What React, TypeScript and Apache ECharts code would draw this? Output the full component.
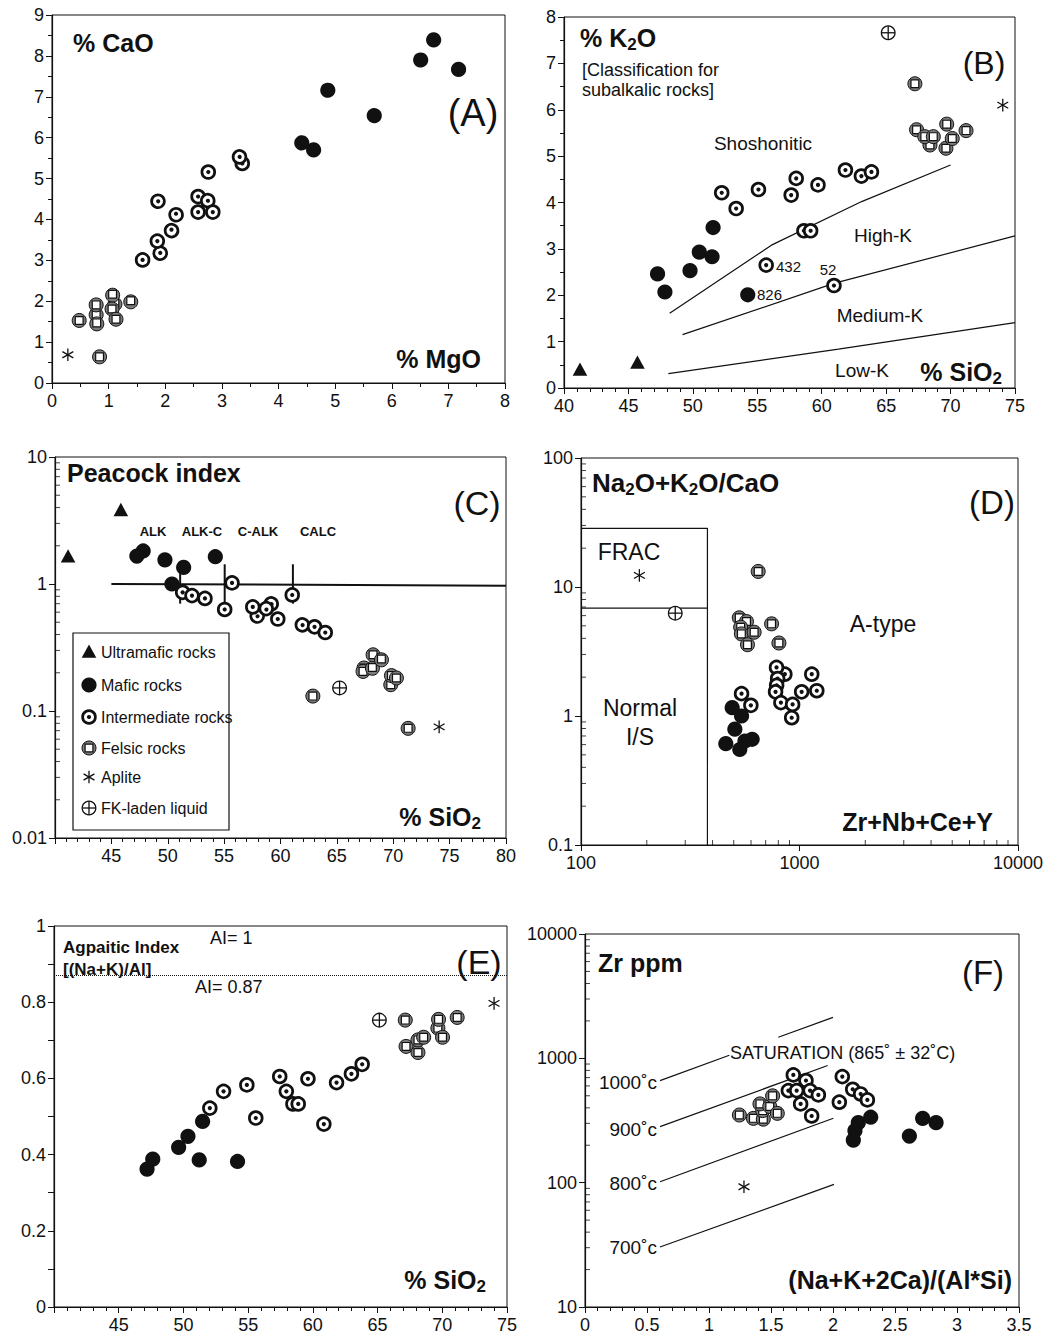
import React, { useEffect, useRef } from "react";
import * as echarts from "echarts";

const FONT = "'Liberation Sans', Arial, Helvetica, sans-serif";
const INK = "#111";

// ---------- Panel A: % CaO vs % MgO ----------
const aMafic = [[6.51, 7.92], [6.74, 8.39], [7.18, 7.67], [4.87, 7.18], [5.69, 6.56], [4.41, 5.9], [4.62, 5.7]];
const aInter = [[3.36, 5.37], [3.31, 5.55], [2.76, 5.16], [2.58, 4.56], [2.75, 4.48], [2.58, 4.18], [2.84, 4.18], [1.87, 4.47], [2.19, 4.14], [2.11, 3.75], [1.91, 3.2], [1.86, 3.47], [1.6, 3.01]];
const aFelsic = [[0.48, 1.53], [1.11, 1.95], [0.78, 1.67], [0.78, 1.91], [0.79, 1.47], [1.07, 2.17], [1.06, 1.81], [1.13, 1.56], [1.39, 2.01], [0.84, 0.64]];
const aAplite = [[0.28, 0.69]];

// ---------- Panel B: % K2O vs % SiO2 ----------
const bUltra = [[41.24, 0.39], [45.7, 0.54]];
const bMafic = [[47.26, 2.46], [47.83, 2.07], [49.78, 2.53], [50.5, 2.93], [51.49, 2.83], [51.57, 3.46], [54.26, 2.01]];
const bInter = [[52.24, 4.21], [53.36, 3.87], [55.09, 4.28], [55.69, 2.65], [57.63, 4.16], [58.02, 4.52], [58.62, 3.39], [59.14, 3.39], [59.71, 4.38], [60.95, 2.21], [61.84, 4.7], [63.08, 4.57], [63.86, 4.66]];
const bFelsic = [[67.23, 6.56], [68.4, 5.24], [67.36, 5.57], [68.0, 5.42], [68.66, 5.42], [69.64, 5.17], [69.7, 5.69], [70.13, 5.38], [71.2, 5.55]];
const bFK = [[65.16, 7.66]];
const bAplite = [[74.05, 6.1]];
const bShoshoLine = [[48.2, 1.61], [56.1, 3.08], [63.1, 4.02], [70.0, 4.81]];
const bHighKLine = [[49.2, 1.15], [61.0, 2.26], [75, 3.28]];
const bMedKLine = [[48.1, 0.31], [61.3, 0.84], [75, 1.41]];

// ---------- Panel C: Peacock index vs % SiO2 ----------
const cUltra = [[41.16, 1.64], [45.84, 3.8]];
const cMafic = [[47.26, 1.66], [47.82, 1.82], [49.75, 1.55], [51.41, 1.35], [50.37, 1.0], [54.22, 1.64]];
const cInter = [[51.32, 0.86], [52.15, 0.81], [53.3, 0.77], [55.7, 1.02], [55.05, 0.63], [57.93, 0.57], [57.54, 0.66], [59.17, 0.71], [58.73, 0.64], [59.76, 0.53], [61.04, 0.82], [61.93, 0.485], [63.02, 0.46], [63.97, 0.415]];
const cFelsic = [[62.87, 0.131], [67.41, 0.218], [67.32, 0.205], [68.15, 0.22], [68.21, 0.277], [68.95, 0.257], [69.78, 0.161], [69.84, 0.19], [70.28, 0.182], [71.32, 0.073]];
const cFK = [[65.24, 0.152]];
const cAplite = [[74.07, 0.075]];
const cHLine = [[45.0, 1.0], [80, 0.97]];
const cVLine1 = [[51.1, 1.41], [51.1, 0.7]];
const cVLine2 = [[55.05, 1.43], [55.05, 0.66]];
const cVLine3 = [[61.1, 1.43], [61.1, 0.7]];

// ---------- Panel D: Na2O+K2O/CaO vs Zr+Nb+Ce+Y ----------
const dAplite = [[185, 12.3]];
const dFK = [[270, 6.27]];
const dFelsic = [[647, 13.2], [530, 5.77], [572, 5.4], [538, 4.88], [542, 4.33], [620, 4.46], [578, 3.57], [745, 5.18], [805, 3.68]];
const dInter = [[543, 1.49], [599, 1.21], [857, 2.11], [785, 2.38], [794, 1.95], [786, 1.73], [777, 1.54], [822, 1.27], [930, 1.23], [921, 0.97], [1023, 1.54], [1138, 2.11], [1200, 1.57]];
const dMafic = [[492, 1.16], [543, 1.0], [506, 0.79], [460, 0.61], [533, 0.55], [563, 0.64], [607, 0.66]];
const dFracBox = [[100, 28.5], [379, 28.5], [379, 0.1]];
const dFracLine = [[100, 6.86], [379, 6.86]];

// ---------- Panel E: Agpaitic index vs % SiO2 ----------
const eMafic = [[47.19, 0.362], [47.63, 0.388], [49.63, 0.419], [50.35, 0.448], [51.22, 0.386], [51.48, 0.487], [54.18, 0.382]];
const eInter = [[52.04, 0.522], [53.1, 0.566], [54.9, 0.583], [55.59, 0.496], [57.44, 0.605], [57.95, 0.566], [58.46, 0.533], [58.87, 0.533], [59.62, 0.599], [60.85, 0.48], [61.83, 0.589], [62.98, 0.612], [63.81, 0.637]];
const eFelsic = [[67.14, 0.753], [67.2, 0.684], [68.12, 0.668], [68.12, 0.701], [68.56, 0.708], [69.66, 0.732], [69.71, 0.755], [70.02, 0.708], [71.15, 0.76]];
const eFK = [[65.14, 0.753]];
const eAplite = [[74.0, 0.797]];
const eAILine = [[40, 0.87], [75, 0.87]];

// ---------- Panel F: Zr ppm vs (Na+K+2Ca)/(Al*Si) ----------
const fAplite = [[1.282, 92.7]];
const fFelsic = [[1.245, 350], [1.358, 329], [1.438, 324], [1.433, 380], [1.411, 430], [1.49, 410], [1.513, 499], [1.551, 361]];
const fInter = [[1.64, 550], [1.707, 550], [1.68, 736], [1.782, 663], [1.815, 550], [1.882, 508], [1.739, 430], [1.828, 344], [2.075, 713], [2.051, 444], [2.159, 564], [2.223, 517], [2.277, 463]];
const fMafic = [[2.204, 304], [2.177, 262], [2.164, 220], [2.304, 336], [2.616, 237], [2.723, 329], [2.831, 304]];
const f1000a = [[0.605, 662], [1.164, 1059]];
const f1000b = [[1.559, 1476], [2.0, 2134]];
const f900 = [[0.605, 282], [1.957, 875]];
const f800 = [[0.605, 101.6], [2.003, 330]];
const f700 = [[0.605, 30.4], [2.008, 96.8]];

// log-axis minor tick positions
const mantissas = [2, 3, 4, 5, 6, 7, 8, 9];
const decadesC = [0.01, 0.1, 1];
const decadesDY = [0.1, 1, 10];
const decadesDX = [100, 1000];
const decadesF = [10, 100, 1000];

type Kind = "ultra" | "mafic" | "inter" | "felsic" | "aplite" | "fk";

function markerChildren(kind: Kind, cx: number, cy: number): any[] {
  switch (kind) {
    case "mafic":
      return [{ type: "circle", shape: { cx, cy, r: 7.6 }, style: { fill: INK } }];
    case "inter":
      return [
        { type: "circle", shape: { cx, cy, r: 6.4 }, style: { fill: "#fff", stroke: INK, lineWidth: 2.7 } },
        { type: "circle", shape: { cx, cy, r: 2.1 }, style: { fill: INK } },
      ];
    case "felsic":
      return [
        { type: "circle", shape: { cx, cy, r: 7 }, style: { fill: "#7c7c7c", stroke: INK, lineWidth: 1 } },
        { type: "rect", shape: { x: cx - 3.9, y: cy - 3.9, width: 7.8, height: 7.8 }, style: { fill: "#fff", stroke: INK, lineWidth: 1.2 } },
      ];
    case "fk":
      return [
        { type: "circle", shape: { cx, cy, r: 6.8 }, style: { fill: "#fff", stroke: INK, lineWidth: 1.3 } },
        { type: "line", shape: { x1: cx - 6.8, y1: cy, x2: cx + 6.8, y2: cy }, style: { stroke: INK, lineWidth: 1.3 } },
        { type: "line", shape: { x1: cx, y1: cy - 6.8, x2: cx, y2: cy + 6.8 }, style: { stroke: INK, lineWidth: 1.3 } },
      ];
    case "aplite": {
      const L = 6.3;
      return [90, 30, 150].map((deg) => {
        const a = (deg * Math.PI) / 180;
        return {
          type: "line",
          shape: { x1: cx - L * Math.cos(a), y1: cy - L * Math.sin(a), x2: cx + L * Math.cos(a), y2: cy + L * Math.sin(a) },
          style: { stroke: INK, lineWidth: 1.3 },
        };
      });
    }
    case "ultra":
    default:
      return [{ type: "polygon", shape: { points: [[cx, cy - 7.5], [cx + 7.3, cy + 5.8], [cx - 7.3, cy + 5.8]] }, style: { fill: INK } }];
  }
}

function pts(kind: Kind, data: number[][], i: number) {
  return {
    type: "custom",
    xAxisIndex: i,
    yAxisIndex: i,
    data,
    encode: { x: 0, y: 1 },
    silent: true,
    clip: false,
    z: 5,
    renderItem: (_p: any, api: any) => {
      const p = api.coord([api.value(0), api.value(1)]);
      return { type: "group", children: markerChildren(kind, p[0], p[1]) };
    },
  };
}

function ln(data: number[][], i: number, width = 1.2, type: any = "solid") {
  return {
    type: "line",
    xAxisIndex: i,
    yAxisIndex: i,
    data,
    symbol: "none",
    showSymbol: false,
    silent: true,
    z: 3,
    lineStyle: { color: INK, width, type },
  };
}

function minorY(i: number, xAt: number, decades: number[]) {
  const data: number[][] = [];
  decades.forEach((d) => mantissas.forEach((m) => data.push([xAt, m * d])));
  return {
    type: "scatter", xAxisIndex: i, yAxisIndex: i, data, symbol: "rect", symbolSize: [5, 1],
    symbolOffset: [2.5, 0], itemStyle: { color: INK }, silent: true, clip: false, z: 2,
  };
}
function minorX(i: number, yAt: number, decades: number[]) {
  const data: number[][] = [];
  decades.forEach((d) => mantissas.forEach((m) => data.push([m * d, yAt])));
  return {
    type: "scatter", xAxisIndex: i, yAxisIndex: i, data, symbol: "rect", symbolSize: [1, 5],
    symbolOffset: [0, -2.5], itemStyle: { color: INK }, silent: true, clip: false, z: 2,
  };
}

const baseAxis = (i: number, isX: boolean) => ({
  gridIndex: i,
  axisLine: { show: true, onZero: false, lineStyle: { color: INK, width: 1.2 } },
  axisTick: { show: true, length: 6, lineStyle: { color: INK, width: 1 } },
  splitLine: { show: false },
  axisLabel: { color: INK, fontSize: 18, fontFamily: FONT, margin: isX ? 9 : 8, hideOverlap: false },
});

function valueAxis(i: number, isX: boolean, min: number, max: number, interval: number, minorSplit: number, labelExtra: any = {}) {
  const b: any = baseAxis(i, isX);
  return {
    ...b,
    type: "value",
    min,
    max,
    interval,
    minorTick: { show: minorSplit > 0, splitNumber: minorSplit || 1, length: 4, lineStyle: { color: INK, width: 1 } },
    minorSplitLine: { show: false },
    axisLabel: { ...b.axisLabel, ...labelExtra },
  };
}
function logAxis(i: number, isX: boolean, min: number, max: number) {
  const b: any = baseAxis(i, isX);
  return {
    ...b,
    type: "log",
    logBase: 10,
    min,
    max,
    axisLabel: { ...b.axisLabel, formatter: (v: number) => String(+Number(v).toPrecision(6)) },
  };
}

const gridBoxes = [
  { left: 52, top: 15, width: 453, height: 368 },
  { left: 564, top: 17, width: 451, height: 371 },
  { left: 55, top: 457, width: 451, height: 381 },
  { left: 581, top: 458, width: 437, height: 387 },
  { left: 54, top: 926, width: 453, height: 381 },
  { left: 585, top: 934, width: 434, height: 373 },
];

const txt = (text: string, x: number, y: number, fontSize: number, extra: any = {}) => ({
  type: "text",
  x,
  y,
  z: 20,
  silent: true,
  style: { text, fontSize, fontFamily: FONT, fill: INK, align: "left", verticalAlign: "middle", ...extra },
});
const subRich = (size: number) => ({ s: { fontSize: size, lineHeight: size, verticalAlign: "bottom", fontWeight: "bold" } });

function legendGraphic() {
  const items: [Kind, string, number][] = [
    ["ultra", "Ultramafic rocks", 652],
    ["mafic", "Mafic rocks", 685],
    ["inter", "Intermediate rocks", 717],
    ["felsic", "Felsic rocks", 748],
    ["aplite", "Aplite", 777],
    ["fk", "FK-laden liquid", 808],
  ];
  const children: any[] = [
    { type: "rect", shape: { x: 73, y: 633, width: 156, height: 197 }, style: { fill: "#fff", stroke: INK, lineWidth: 1.2 } },
  ];
  items.forEach(([k, label, y]) => {
    children.push({ type: "group", children: markerChildren(k, 89, y) });
    children.push(txt(label, 101, y, 16));
  });
  return { type: "group", z: 15, silent: true, children };
}

const graphics = [
  // Panel A
  txt("% CaO", 73, 43, 25, { fontWeight: "bold" }),
  txt("(A)", 473, 113, 38, { align: "center" }),
  txt("% MgO", 481, 359, 25, { fontWeight: "bold", align: "right" }),
  // Panel B
  txt("% K{s|2}O", 580, 38, 25, { fontWeight: "bold", lineHeight: 30, rich: subRich(17) }),
  txt("[Classification for", 582, 70, 18),
  txt("subalkalic rocks]", 582, 90, 18),
  txt("(B)", 984, 63, 32, { align: "center" }),
  txt("Shoshonitic", 763, 143, 19, { align: "center" }),
  txt("High-K", 883, 235, 19, { align: "center" }),
  txt("Medium-K", 880, 315, 19, { align: "center" }),
  txt("Low-K", 862, 370, 19, { align: "center" }),
  txt("% SiO{s|2}", 1002, 372, 25, { fontWeight: "bold", align: "right", lineHeight: 30, rich: subRich(17) }),
  txt("432", 776, 266, 15),
  txt("826", 757, 294, 15),
  txt("52", 828, 269, 15, { align: "center" }),
  // Panel C
  txt("Peacock index", 67, 473, 25, { fontWeight: "bold" }),
  txt("(C)", 477, 503, 34, { align: "center" }),
  txt("ALK", 153, 531, 13, { fontWeight: "bold", align: "center" }),
  txt("ALK-C", 202, 531, 13, { fontWeight: "bold", align: "center" }),
  txt("C-ALK", 258, 531, 13, { fontWeight: "bold", align: "center" }),
  txt("CALC", 318, 531, 13, { fontWeight: "bold", align: "center" }),
  txt("% SiO{s|2}", 481, 817, 25, { fontWeight: "bold", align: "right", lineHeight: 30, rich: subRich(17) }),
  legendGraphic(),
  // Panel D
  txt("Na{s|2}O+K{s|2}O/CaO", 592, 483, 26, { fontWeight: "bold", lineHeight: 30, rich: subRich(17) }),
  txt("(D)", 992, 502, 33, { align: "center" }),
  txt("FRAC", 629, 552, 23, { align: "center" }),
  txt("Normal", 640, 708, 23, { align: "center" }),
  txt("I/S", 640, 737, 23, { align: "center" }),
  txt("A-type", 883, 624, 23, { align: "center" }),
  txt("Zr+Nb+Ce+Y", 993, 822, 25, { fontWeight: "bold", align: "right" }),
  // Panel E
  txt("Agpaitic Index", 63, 947, 17, { fontWeight: "bold" }),
  txt("[(Na+K)/Al]", 63, 969, 17, { fontWeight: "bold" }),
  txt("AI= 1", 210, 938, 18),
  txt("AI= 0.87", 195, 987, 18),
  txt("(E)", 479, 962, 34, { align: "center" }),
  txt("% SiO{s|2}", 486, 1280, 25, { fontWeight: "bold", align: "right", lineHeight: 30, rich: subRich(17) }),
  // Panel F
  txt("Zr ppm", 598, 963, 25, { fontWeight: "bold" }),
  txt("(F)", 983, 972, 33, { align: "center" }),
  txt("SATURATION (865˚ ± 32˚C)", 730, 1053, 18),
  txt("1000˚c", 657, 1082, 19, { align: "right" }),
  txt("900˚c", 657, 1129, 19, { align: "right" }),
  txt("800˚c", 657, 1183, 19, { align: "right" }),
  txt("700˚c", 657, 1247, 19, { align: "right" }),
  txt("(Na+K+2Ca)/(Al*Si)", 1012, 1280, 25, { fontWeight: "bold", align: "right" }),
];

const eYFormatter = (v: number) => {
  const r = Math.round(v * 10);
  return r % 2 === 0 ? String(r / 10) : "";
};

function buildOption(): any {
  return {
    animation: false,
    backgroundColor: "#fff",
    textStyle: { fontFamily: FONT, color: INK },
    grid: gridBoxes.map((g) => ({
      ...g,
      show: true,
      borderColor: INK,
      borderWidth: 1,
      backgroundColor: "transparent",
      containLabel: false,
      outerBoundsMode: "none",
    })),
    xAxis: [
      valueAxis(0, true, 0, 8, 1, 2),
      valueAxis(1, true, 40, 75, 5, 5),
      valueAxis(2, true, 40, 80, 5, 5, { showMinLabel: false }),
      logAxis(3, true, 100, 10000),
      valueAxis(4, true, 40, 75, 5, 5, { showMinLabel: false }),
      valueAxis(5, true, 0, 3.5, 0.5, 5),
    ],
    yAxis: [
      valueAxis(0, false, 0, 9, 1, 2),
      valueAxis(1, false, 0, 8, 1, 2),
      logAxis(2, false, 0.01, 10),
      logAxis(3, false, 0.1, 100),
      valueAxis(4, false, 0, 1, 0.1, 0, { formatter: eYFormatter }),
      logAxis(5, false, 10, 10000),
    ],
    graphic: graphics,
    series: [
      // A
      pts("mafic", aMafic, 0),
      pts("inter", aInter, 0),
      pts("felsic", aFelsic, 0),
      pts("aplite", aAplite, 0),
      // B
      ln(bShoshoLine, 1, 1.2),
      ln(bHighKLine, 1, 1.2),
      ln(bMedKLine, 1, 1.2),
      pts("ultra", bUltra, 1),
      pts("mafic", bMafic, 1),
      pts("inter", bInter, 1),
      pts("felsic", bFelsic, 1),
      pts("fk", bFK, 1),
      pts("aplite", bAplite, 1),
      // C
      minorY(2, 40, decadesC),
      ln(cHLine, 2, 2),
      ln(cVLine1, 2, 2),
      ln(cVLine2, 2, 2),
      ln(cVLine3, 2, 2),
      pts("ultra", cUltra, 2),
      pts("mafic", cMafic, 2),
      pts("inter", cInter, 2),
      pts("felsic", cFelsic, 2),
      pts("fk", cFK, 2),
      pts("aplite", cAplite, 2),
      // D
      minorY(3, 100, decadesDY),
      minorX(3, 0.1, decadesDX),
      ln(dFracBox, 3, 1.2),
      ln(dFracLine, 3, 1.2),
      pts("aplite", dAplite, 3),
      pts("fk", dFK, 3),
      pts("felsic", dFelsic, 3),
      pts("inter", dInter, 3),
      pts("mafic", dMafic, 3),
      // E
      ln(eAILine, 4, 1, "dotted"),
      pts("mafic", eMafic, 4),
      pts("inter", eInter, 4),
      pts("felsic", eFelsic, 4),
      pts("fk", eFK, 4),
      pts("aplite", eAplite, 4),
      // F
      minorY(5, 0, decadesF),
      ln(f1000a, 5, 1.2),
      ln(f1000b, 5, 1.2),
      ln(f900, 5, 1.2),
      ln(f800, 5, 1.2),
      ln(f700, 5, 1.2),
      pts("aplite", fAplite, 5),
      pts("felsic", fFelsic, 5),
      pts("inter", fInter, 5),
      pts("mafic", fMafic, 5),
    ],
  };
}

export default function App() {
  const ref = useRef<HTMLDivElement>(null);
  useEffect(() => {
    if (!ref.current) return;
    const chart = echarts.init(ref.current, null, { renderer: "svg" });
    chart.setOption(buildOption());
    return () => chart.dispose();
  }, []);
  return (
    <div
      ref={ref}
      style={{ position: "absolute", left: 0, top: 0, width: 1059, height: 1340, background: "#fff" }}
    />
  );
}
